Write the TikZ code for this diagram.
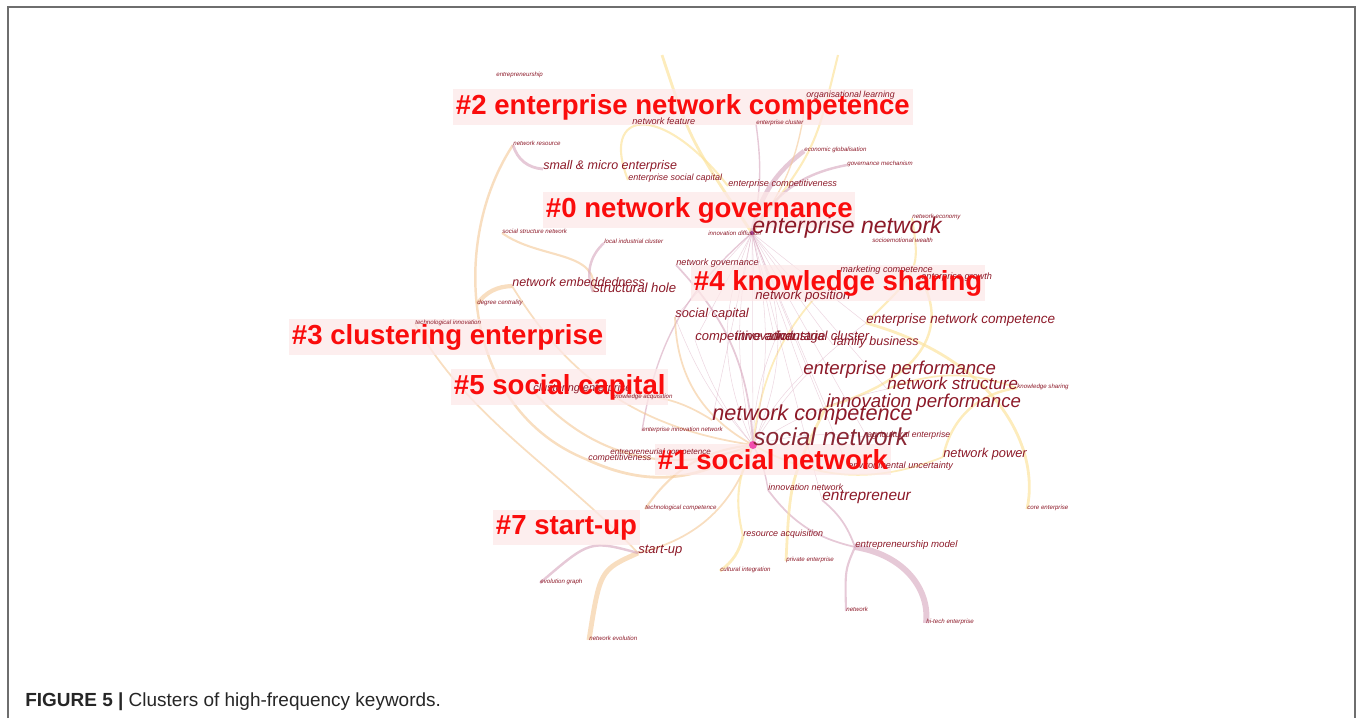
\documentclass[tikz,border=0pt]{standalone}
\usepackage{fontspec}
\setmainfont{Liberation Sans}
\definecolor{kwred}{RGB}{140,25,40}
\definecolor{clred}{RGB}{250,12,12}
\definecolor{clpink}{RGB}{253,232,232}
\definecolor{arcyel}{RGB}{252,228,160}
\definecolor{arcora}{RGB}{244,200,150}
\definecolor{arcmau}{RGB}{214,165,188}
\definecolor{framegray}{RGB}{110,110,110}
\tikzset{
  kw/.style={anchor=base west, inner sep=0pt, text=kwred, font=\fontsize{#1}{#1}\selectfont\itshape},
  cl/.style={anchor=base west, text=clred, inner xsep=1.5pt, inner ysep=3pt,
    font=\fontsize{15.7}{16}\selectfont\bfseries},
  clbox/.style={cl, fill=clpink, fill opacity=0.75, text opacity=0},
  arcY/.style={draw=arcyel, opacity=0.7, line width=#1},
  arcO/.style={draw=arcora, opacity=0.6, line width=#1},
  arcM/.style={draw=arcmau, opacity=0.6, line width=#1},
  hub/.style={draw=arcmau, opacity=0.45, line width=0.3pt},
  frame/.style={draw=framegray, line width=1.1pt},
}
\begin{document}
\begin{tikzpicture}[x=0.2mm, y=-0.2mm]
			%%%%% START %%%%%
			\useasboundingbox (0,0) rectangle (1357,718);
			\draw[frame] (8,718) -- (8,7) -- (1355,7) -- (1355,718);
			
			% keyword points
			\coordinate (en) at (752,233);
			\coordinate (sn) at (753,445);
			\coordinate (nc) at (712,420);
			\coordinate (ip) at (826,407);
			\coordinate (ep) at (803,374);
			\coordinate (ns) at (887,389);
			\coordinate (enc) at (866,323);
			\coordinate (ent) at (822,500);
			\coordinate (np) at (943,457);
			\coordinate (sc) at (675,317);
			\coordinate (npos) at (755,299);
			\coordinate (nemb) at (512,286);
			\coordinate (sh) at (593,292);
			\coordinate (sme) at (543,169);
			\coordinate (ca) at (695,340);
			\coordinate (inn) at (735,340);
			\coordinate (ic) at (775,340);
			\coordinate (fb) at (833,345);
			\coordinate (su) at (638,553);
			\coordinate (ra) at (743,536);
			\coordinate (em) at (855,547);
			\coordinate (in) at (768,490);
			\coordinate (nf) at (632,124);
			\coordinate (esc) at (628,180);
			\coordinate (ecomp) at (728,186);
			\coordinate (ng) at (676,265);
			\coordinate (ol) at (806,97);
			\coordinate (ec) at (610,454);
			\coordinate (comp) at (588,460);
			\coordinate (eu) at (848,468);
			\coordinate (ae) at (867,437);
			\coordinate (mc) at (840,272);
			\coordinate (eg) at (921,279);
			\coordinate (cle) at (533,391);
			\coordinate (ka) at (612,398);
			\coordinate (eship) at (496,76);
			\coordinate (nr) at (513,145);
			\coordinate (eclu) at (756,124);
			\coordinate (eglob) at (804,151);
			\coordinate (gm) at (847,165);
			\coordinate (neco) at (912,218);
			\coordinate (sew) at (872,242);
			\coordinate (idf) at (708,235);
			\coordinate (ssn) at (502,233);
			\coordinate (lic) at (604,243);
			\coordinate (dc) at (477,304);
			\coordinate (ti) at (415,324);
			\coordinate (ks) at (1017,388);
			\coordinate (ein) at (642,431);
			\coordinate (tc) at (645,509);
			\coordinate (ce) at (1027,509);
			\coordinate (ci) at (720,571);
			\coordinate (pe) at (786,561);
			\coordinate (evg) at (540,583);
			\coordinate (nev) at (589,640);
			\coordinate (nw) at (846,611);
			\coordinate (hte) at (926,623);
			\coordinate (topA) at (662,55);
			\coordinate (topB) at (838,55);
			
			% arcs
			\draw[arcY=1.6pt] (topA) .. controls (690,140) .. (en);
			\draw[arcY=1.2pt] (topB) .. controls (815,150) .. (en);
			\draw[arcY=1.2pt] (esc) .. controls (600,110) and (660,100) .. (ecomp);
			\draw[arcO=1.4pt] (nr) .. controls (450,240) and (460,410) .. (comp);
			\draw[arcO=1.2pt] (ssn) .. controls (540,260) and (600,250) .. (sh);
			\draw[arcO=2.4pt] (dc) to[bend left=25] (nemb);
			\draw[arcO=1pt] (ti) .. controls (470,420) and (560,470) .. (su);
			\draw[arcM=1.4pt] (lic) to[bend right=35] (sh);
			\draw[arcM=1.6pt] (nr) to[bend right=35] (sme);
			\draw[arcM=2.6pt] (eglob) to[bend right=20] (en);
			\draw[arcM=1.4pt] (gm) to[bend right=25] (en);
			\draw[arcM=0.8pt] (eclu) to[bend left=10] (en);
			\draw[arcO=0.8pt] (ol) to[bend left=15] (en);
			\draw[arcY=1.2pt] (neco) .. controls (920,270) .. (enc);
			\draw[arcY=1.6pt] (enc) .. controls (1000,360) and (1040,450) .. (ce);
			\draw[arcY=1.4pt] (np) to[bend left=35] (ks);
			\draw[arcY=1pt] (ns) to[bend left=20] (ks);
			\draw[arcY=1.4pt] (eg) .. controls (950,330) and (920,380) .. (ip);
			\draw[arcM=3.4pt] (em) .. controls (905,555) and (930,590) .. (hte);
			\draw[arcM=1.2pt] (em) .. controls (845,570) .. (nw);
			\draw[arcM=1pt] (in) to[bend right=20] (em);
			\draw[arcM=1pt] (ent) to[bend left=15] (em);
			\draw[arcY=1.6pt] (ra) to[bend left=20] (ci);
			\draw[arcY=1.6pt] (ip) .. controls (790,480) .. (pe);
			\draw[arcO=2.8pt] (su) .. controls (600,570) .. (nev);
			\draw[arcM=1.4pt] (su) .. controls (590,540) .. (evg);
			\draw[arcO=1.2pt] (tc) to[bend left=25] (sn);
			\draw[arcO=1.6pt] (comp) to[bend right=30] (sn);
			\draw[arcO=1.2pt] (cle) to[bend right=35] (sn);
			\draw[arcO=1pt] (ka) to[bend left=20] (nc);
			\draw[arcM=0.8pt] (ein) to[bend left=20] (en);
			\draw[arcO=1pt] (sn) to[bend left=30] (su);
			\draw[arcY=1.2pt] (sn) to[bend right=20] (ra);
			\draw[arcM=0.8pt] (sn) to[bend left=10] (in);
			\draw[arcY=1pt] (sn) to[bend right=25] (np);
			\draw[arcO=1pt] (sc) to[bend right=30] (sn);
			\draw[arcO=1pt] (nemb) to[bend right=25] (sn);
			\draw[arcM=1pt] (ng) to[bend left=20] (sn);
			\draw[arcY=1pt] (mc) to[bend right=20] (sn);
			
			% fan round the hub
			\foreach \b in {-24,-12,0,12,24}
				\draw[hub] (en) to[bend left=\b] (sn);
			\foreach \t in {nc,ip,ep,ns,enc,ent,sc,npos,ca,ic,fb,eu,ae}
				\draw[hub] (en) -- (\t);
			\foreach \t in {ep,enc,ic,ca,sc,ns,ae}
				\draw[hub] (sn) to[bend left=10] (\t);
			
			% cluster boxes, under the keywords
			\node[clbox] (c2box) at (453,114) {\#2 enterprise network competence};
			\node[clbox] (c0box) at (543,217) {\#0 network governance};
			\node[clbox] (c4box) at (691,290) {\#4 knowledge sharing};
			\node[clbox] (c3box) at (289,344) {\#3 clustering enterprise};
			\node[clbox] (c5box) at (451,394) {\#5 social capital};
			\node[clbox] (c1box) at (655,469) {\#1 social network};
			\node[clbox] (c7box) at (493,534) {\#7 start-up};
			
			\fill[magenta!70!white] (sn) circle (4);
			\fill[violet!70] (en) circle (2);
			
			% keywords
			\node[kw=3.5] (eshipL) at (eship) {entrepreneurship};
			\node[kw=3.5] (nrL) at (nr) {network resource};
			\node[kw=3.5] (ecluL) at (eclu) {enterprise cluster};
			\node[kw=3.5] (eglobL) at (eglob) {economic globalisation};
			\node[kw=3.5] (gmL) at (gm) {governance mechanism};
			\node[kw=3.5] (necoL) at (neco) {network economy};
			\node[kw=3.5] (sewL) at (sew) {socioemotional wealth};
			\node[kw=3.5] (idfL) at (idf) {innovation diffusion};
			\node[kw=3.5] (ssnL) at (ssn) {social structure network};
			\node[kw=3.5] (licL) at (lic) {local industrial cluster};
			\node[kw=3.5] (dcL) at (dc) {degree centrality};
			\node[kw=3.5] (tiL) at (ti) {technological innovation};
			\node[kw=3.5] (ksL) at (ks) {knowledge sharing};
			\node[kw=3.5] (einL) at (ein) {enterprise innovation network};
			\node[kw=3.5] (tcL) at (tc) {technological competence};
			\node[kw=3.5] (ceL) at (ce) {core enterprise};
			\node[kw=3.5] (ciL) at (ci) {cultural integration};
			\node[kw=3.5] (peL) at (pe) {private enterprise};
			\node[kw=3.5] (evgL) at (evg) {evolution graph};
			\node[kw=3.5] (nevL) at (nev) {network evolution};
			\node[kw=3.5] (nwL) at (nw) {network};
			\node[kw=3.5] (hteL) at (hte) {hi-tech enterprise};
			\node[kw=3.5] (kaL) at (ka) {knowledge acquisition};
			
			\node[kw=5.1] (raL) at (ra) {resource acquisition};
			\node[kw=5.5] (emL) at (em) {entrepreneurship model};
			\node[kw=5.1] (inL) at (in) {innovation network};
			\node[kw=5.2] (nfL) at (nf) {network feature};
			\node[kw=5.1] (escL) at (esc) {enterprise social capital};
			\node[kw=5.2] (ecompL) at (ecomp) {enterprise competitiveness};
			\node[kw=5.2] (ngL) at (ng) {network governance};
			\node[kw=5.0] (olL) at (ol) {organisational learning};
			\node[kw=4.6] (ecL) at (ec) {entrepreneurial competence};
			\node[kw=5.0] (compL) at (comp) {competitiveness};
			\node[kw=5.2] (euL) at (eu) {environmental uncertainty};
			\node[kw=4.9] (aeL) at (ae) {agricultural enterprise};
			\node[kw=5.2] (mcL) at (mc) {marketing competence};
			\node[kw=5.2] (egL) at (eg) {enterprise growth};
			\node[kw=6.2] (cleL) at (cle) {clustering enterprise};
			
			\node[kw=13.1] (enL) at (en) {enterprise network};
			\node[kw=13.9, text=kwred!85!gray] (snL) at (sn) {social network};
			\node[kw=12.35] (ncL) at (nc) {network competence};
			\node[kw=10.6] (ipL) at (ip) {innovation performance};
			\node[kw=10.6] (epL) at (ep) {enterprise performance};
			\node[kw=9.7] (nsL) at (ns) {network structure};
			\node[kw=7.7] (encL) at (enc) {enterprise network competence};
			\node[kw=8.8] (entL) at (ent) {entrepreneur};
			\node[kw=7.3] (npL) at (np) {network power};
			\node[kw=7.3] (scL) at (sc) {social capital};
			\node[kw=7.5] (nposL) at (npos) {network position};
			\node[kw=7.1] (nembL) at (nemb) {network embeddedness};
			\node[kw=7.5] (shL) at (sh) {structural hole};
			\node[kw=7.1] (smeL) at (sme) {small \& micro enterprise};
			\node[kw=7.4] (caL) at (ca) {competitive advantage};
			\node[kw=7.4] (innL) at (inn) {innovation};
			\node[kw=7.4] (icL) at (ic) {industrial cluster};
			\node[kw=7.1] (fbL) at (fb) {family business};
			\node[kw=7.4] (suL) at (su) {start-up};
			
			% cluster labels on top
			\node[cl] (c2) at (453,114) {\#2 enterprise network competence};
			\node[cl] (c0) at (543,217) {\#0 network governance};
			\node[cl] (c4) at (691,290) {\#4 knowledge sharing};
			\node[cl] (c3) at (289,344) {\#3 clustering enterprise};
			\node[cl] (c5) at (451,394) {\#5 social capital};
			\node[cl] (c1) at (655,469) {\#1 social network};
			\node[cl] (c7) at (493,534) {\#7 start-up};
			
			% caption
			\node[anchor=base west, inner sep=0pt, text=black!85, font=\fontsize{10.8}{12}\selectfont] (cap) at (25,706)
				{\textbf{FIGURE 5 |} Clusters of high-frequency keywords.};
			%%%%% END %%%%%
\end{tikzpicture}
\end{document}
